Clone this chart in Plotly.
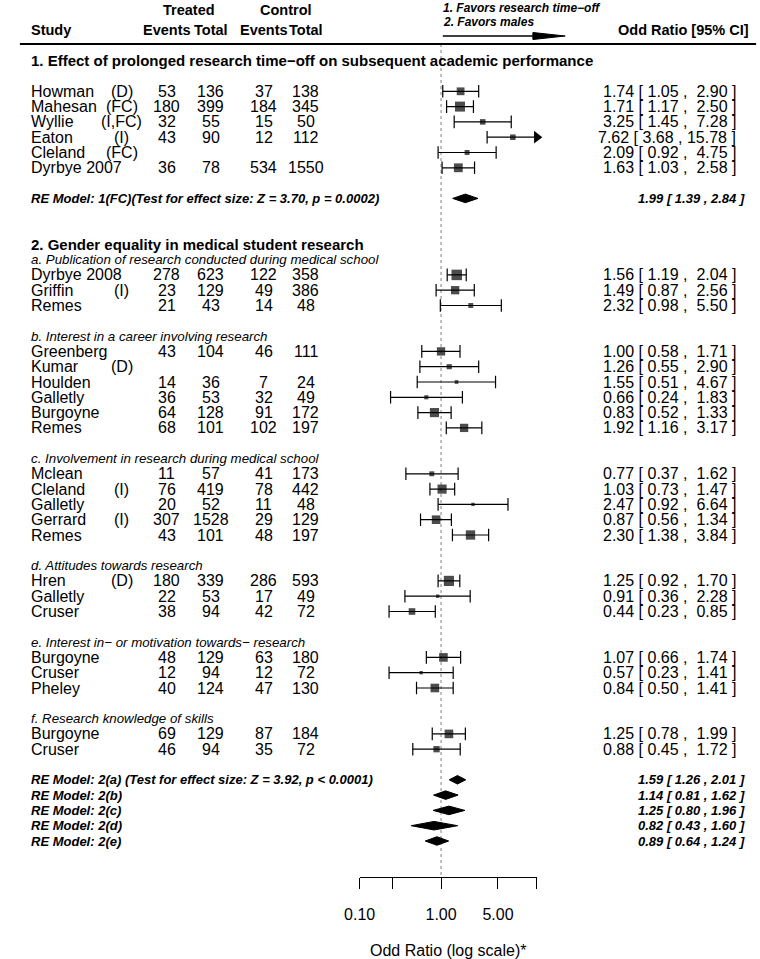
import math
import plotly.graph_objects as go

# ---------------- data ----------------
study = ["Howman", "Mahesan", "Wyllie", "Eaton", "Cleland", "Dyrbye 2007",
         "Dyrbye 2008", "Griffin", "Remes",
         "Greenberg", "Kumar", "Houlden", "Galletly", "Burgoyne", "Remes",
         "Mclean", "Cleland", "Galletly", "Gerrard", "Remes",
         "Hren", "Galletly", "Cruser",
         "Burgoyne", "Cruser", "Pheley",
         "Burgoyne", "Cruser"]
note = ["(D)", "(FC)", "(I,FC)", "(I)", "(FC)", "",
        "", "(I)", "",
        "", "(D)", "", "", "", "",
        "", "(I)", "", "(I)", "",
        "(D)", "", "",
        "", "", "",
        "", ""]
group = ["1"] * 6 + ["a"] * 3 + ["b"] * 6 + ["c"] * 5 + ["d"] * 3 + ["e"] * 3 + ["f"] * 2

trt_events = [53, 180, 32, 43, None, 36, 278, 23, 21, 43, None, 14, 36, 64, 68,
              11, 76, 20, 307, 43, 180, 22, 38, 48, 12, 40, 69, 46]
trt_total = [136, 399, 55, 90, None, 78, 623, 129, 43, 104, None, 36, 53, 128, 101,
             57, 419, 52, 1528, 101, 339, 53, 94, 129, 94, 124, 129, 94]
ctl_events = [37, 184, 15, 12, None, 534, 122, 49, 14, 46, None, 7, 32, 91, 102,
              41, 78, 11, 29, 48, 286, 17, 42, 63, 12, 47, 87, 35]
ctl_total = [138, 345, 50, 112, None, 1550, 358, 386, 48, 111, None, 24, 49, 172, 197,
             173, 442, 48, 129, 197, 593, 49, 72, 180, 72, 130, 184, 72]

odds = [1.74, 1.71, 3.25, 7.62, 2.09, 1.63, 1.56, 1.49, 2.32, 1.00, 1.26, 1.55, 0.66, 0.83,
        1.92, 0.77, 1.03, 2.47, 0.87, 2.30, 1.25, 0.91, 0.44, 1.07, 0.57, 0.84, 1.25, 0.88]
ci_low = [1.05, 1.17, 1.45, 3.68, 0.92, 1.03, 1.19, 0.87, 0.98, 0.58, 0.55, 0.51, 0.24, 0.52,
          1.16, 0.37, 0.73, 0.92, 0.56, 1.38, 0.92, 0.36, 0.23, 0.66, 0.23, 0.50, 0.78, 0.45]
ci_high = [2.90, 2.50, 7.28, 15.78, 4.75, 2.58, 2.04, 2.56, 5.50, 1.71, 2.90, 4.67, 1.83, 1.33,
           3.17, 1.62, 1.47, 6.64, 1.34, 3.84, 1.70, 2.28, 0.85, 1.74, 1.41, 1.41, 1.99, 1.72]
# relative study weight (drives the box size)
weight = [0.74, 0.95, 0.53, 0.53, 0.47, 0.84, 1.0, 0.79, 0.47, 0.79, 0.49, 0.35, 0.39, 0.87,
          0.79, 0.47, 0.87, 0.32, 0.82, 0.89, 0.97, 0.32, 0.63, 0.82, 0.32, 0.82, 0.82, 0.6]

section_titles = {"1": "1. Effect of prolonged research time\u2212off on subsequent academic performance",
                  "2": "2. Gender equality in medical student research"}
subgroup_titles = {"a": "a. Publication of research conducted during medical school",
                   "b": "b. Interest in a career involving research",
                   "c": "c. Involvement in research during medical school",
                   "d": "d. Attitudes towards research",
                   "e": "e. Interest in\u2212 or motivation towards\u2212 research",
                   "f": "f. Research knowledge of skills"}

re_label = ["RE Model: 1(FC)(Test for effect size: Z = 3.70, p = 0.0002)",
            "RE Model: 2(a) (Test for effect size: Z = 3.92, p < 0.0001)",
            "RE Model: 2(b)", "RE Model: 2(c)", "RE Model: 2(d)", "RE Model: 2(e)"]
re_est = [1.99, 1.59, 1.14, 1.25, 0.82, 0.89]
re_low = [1.39, 1.26, 0.81, 0.80, 0.43, 0.64]
re_high = [2.84, 2.01, 1.62, 1.96, 1.60, 1.24]

axis_ticks = [0.10, 0.25, 1.00, 5.00, 15.00]
axis_labels = ["0.10", "", "1.00", "5.00", ""]

# ---------------- page geometry ----------------
W, H = 760, 959
AXIS_PX = 877      # y of the axis line
ROW1_PX = 841      # y of row 1
ROW_H = 15.3       # px per row
X_LO, X_HI = 0.1, 15
FONT = "Liberation Sans, Arial, sans-serif"


def row_of(ypx):
    return 1 + (ROW1_PX - ypx) / ROW_H


# assign rows top-down like metafor's forest(rows=...)
study_rows = []
title_rows = {}
r = 52
title_rows["1"] = r
r -= 2
for g in group:
    if g == "1":
        study_rows.append(r)
        r -= 1
re_rows = [r - 1]
r -= 4
title_rows["2"] = r
r -= 1
for sub in "abcdef":
    title_rows[sub] = r
    r -= 1
    for g in group:
        if g == sub:
            study_rows.append(r)
            r -= 1
    r -= 1
re_rows += [r - i for i in range(5)]

fig = go.Figure()

# reference line at OR = 1
fig.add_trace(go.Scatter(x=[1, 1], y=[row_of(44), row_of(AXIS_PX)], mode="lines",
                         line=dict(color="#808080", width=1, dash="dot"),
                         hoverinfo="skip", showlegend=False))

# CI whiskers
seg_x, seg_y = [], []
cap_x, cap_y = [], []
arr_x, arr_y = [], []
for lo, hi, rr in zip(ci_low, ci_high, study_rows):
    lo_p, hi_p = max(lo, X_LO), min(hi, X_HI)
    seg_x += [lo_p, hi_p, None]
    seg_y += [rr, rr, None]
    cap_x.append(lo_p)
    cap_y.append(rr)
    if hi > X_HI:
        arr_x.append(hi_p)
        arr_y.append(rr)
    else:
        cap_x.append(hi_p)
        cap_y.append(rr)

fig.add_trace(go.Scatter(x=seg_x, y=seg_y, mode="lines", line=dict(color="black", width=1.2),
                         hoverinfo="skip", showlegend=False))
fig.add_trace(go.Scatter(x=cap_x, y=cap_y, mode="markers",
                         marker=dict(symbol="line-ns", size=9, line=dict(color="black", width=1.2)),
                         hoverinfo="skip", showlegend=False))
fig.add_trace(go.Scatter(x=arr_x, y=arr_y, mode="markers", cliponaxis=False,
                         marker=dict(symbol="triangle-right", size=11, color="black"),
                         hoverinfo="skip", showlegend=False))

# study boxes
fig.add_trace(go.Scatter(x=odds, y=study_rows, mode="markers", cliponaxis=False,
                         marker=dict(symbol="square", size=[10.5 * w for w in weight], color="black",
                                     line=dict(width=0)),
                         text=study, hovertemplate="%{text}: %{x:.2f}<extra></extra>",
                         showlegend=False))

# pooled diamonds
HALF = 0.28
for est, lo, hi, rr in zip(re_est, re_low, re_high, re_rows):
    fig.add_trace(go.Scatter(x=[lo, est, hi, est, lo], y=[rr, rr + HALF, rr, rr - HALF, rr],
                             mode="lines", fill="toself", fillcolor="black",
                             line=dict(color="black", width=1),
                             hoverinfo="skip", showlegend=False))

ann = []


def txt(xpx, row, s, anchor="left", size=16, yref="y"):
    ann.append(dict(x=xpx / W, xref="paper", y=row, yref=yref, text=s, showarrow=False,
                    xanchor=anchor, yanchor="middle",
                    font=dict(family=FONT, size=size, color="black")))


# header
txt(177, row_of(10), "<b>Treated</b>", "center", 14.5)
txt(276, row_of(10), "<b>Control</b>", "center", 14.5)
txt(13, row_of(30), "<b>Study</b>", "left", 14.5)
for cx, s in [(154, "Events"), (199, "Total"), (253, "Events"), (296, "Total")]:
    txt(cx, row_of(30), "<b>%s</b>" % s, "center", 14.5)
txt(751, row_of(30), "<b>Odd Ratio [95% CI]</b>", "right", 14.5)
txt(434, row_of(8), "<b><i>1. Favors research time\u2212off</i></b>", "left", 12)
txt(434, row_of(22), "<b><i>2. Favors males</i></b>", "left", 12)

# section / subgroup titles
for k, s in section_titles.items():
    txt(13, title_rows[k], "<b>%s</b>" % s, "left", 15)
for k, s in subgroup_titles.items():
    txt(13, title_rows[k], "<i>%s</i>" % s, "left", 13.3)

# study rows
for i, rr in enumerate(study_rows):
    txt(13, rr, study[i])
    if note[i]:
        txt(108, rr, note[i], "center")
    for cx, v in [(154, trt_events[i]), (199, trt_total[i]), (253, ctl_events[i]), (296, ctl_total[i])]:
        if v is not None:
            txt(cx, rr, str(v), "center")
    txt(738, rr, "%.2f [ %.2f , %5.2f ]" % (odds[i], ci_low[i], ci_high[i]), "right")

# pooled rows
for i, rr in enumerate(re_rows):
    txt(13, rr, "<b><i>%s</i></b>" % re_label[i], "left", 13)
    txt(747, rr, "<b><i>%.2f [ %.2f , %.2f ]</i></b>" % (re_est[i], re_low[i], re_high[i]), "right", 13)

# axis title (below the plot area)
ann.append(dict(x=441.5 / W, xref="paper", y=(AXIS_PX - 950) / AXIS_PX, yref="paper",
                text="Odd Ratio (log scale)*", showarrow=False, xanchor="center", yanchor="middle",
                font=dict(family=FONT, size=16, color="black")))

# header rule and direction arrow
arrow_row = row_of(36)
shapes = [
    dict(type="line", xref="paper", yref="y", x0=4 / W, x1=756 / W, y0=row_of(44), y1=row_of(44),
         line=dict(color="black", width=2)),
    dict(type="line", xref="paper", yref="y", x0=436 / W, x1=540 / W, y0=arrow_row, y1=arrow_row,
         line=dict(color="black", width=1.5)),
    dict(type="path", xref="paper", yref="y",
         path="M %f %f L %f %f L %f %f Z" % (528 / W, arrow_row + 3.5 / ROW_H, 561 / W, arrow_row,
                                             528 / W, arrow_row - 3.5 / ROW_H),
         fillcolor="black", line=dict(color="black", width=1)),
]

fig.update_layout(
    width=W, height=H,
    margin=dict(l=0, r=0, t=0, b=H - AXIS_PX),
    paper_bgcolor="white", plot_bgcolor="white",
    font=dict(family=FONT, size=16, color="black"),
    annotations=ann, shapes=shapes, showlegend=False,
    xaxis=dict(type="log", range=[math.log10(X_LO), math.log10(X_HI)],
               domain=[351 / W, 532 / W], tickvals=axis_ticks, ticktext=axis_labels,
               ticks="outside", ticklen=11, tickwidth=1, tickcolor="black",
               showline=True, linecolor="black", linewidth=1, showgrid=False, zeroline=False,
               tickfont=dict(family=FONT, size=16, color="black"), ticklabelstandoff=12,
               fixedrange=True),
    yaxis=dict(range=[row_of(AXIS_PX), row_of(0)], visible=False, fixedrange=True),
)

# page has no body margin so the 760x959 figure fills the window exactly
fig.write_html("out.html", config={"displayModeBar": False},
               post_script="document.body.style.margin='0';document.body.style.overflow='hidden';")
